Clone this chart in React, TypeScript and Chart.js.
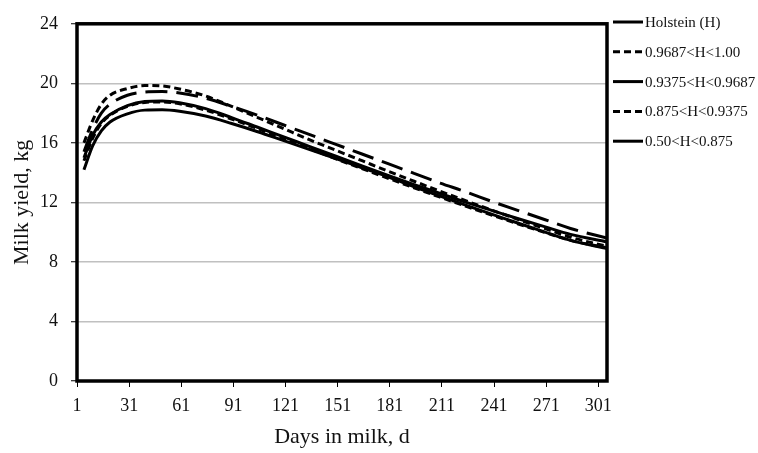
import React, { useEffect, useRef } from "react";
import { Chart, registerables } from "chart.js";

Chart.register(...registerables);

// Days in milk at which values were read
const days = [5, 10, 15, 20, 30, 40, 50, 60, 75, 90, 105, 120, 135, 150, 165, 180, 195, 210, 225, 240, 255, 270, 285, 306];

const seriesNames = ["Holstein (H)", "0.9687<H<1.00", "0.9375<H<0.9687", "0.875<H<0.9375", "0.50<H<0.875"];

const holstein = [15.0, 16.5, 17.4, 17.9, 18.5, 18.78, 18.82, 18.7, 18.3, 17.7, 17.05, 16.4, 15.75, 15.1, 14.45, 13.82, 13.2, 12.6, 12.0, 11.45, 10.9, 10.37, 9.85, 9.35];
const h9687 = [16.0, 17.5, 18.6, 19.2, 19.65, 19.85, 19.82, 19.62, 19.15, 18.45, 17.7, 16.95, 16.2, 15.5, 14.8, 14.1, 13.42, 12.75, 12.1, 11.47, 10.85, 10.25, 9.66, 9.05];
const h9375 = [15.4, 16.9, 18.0, 18.6, 19.2, 19.42, 19.45, 19.35, 19.0, 18.45, 17.85, 17.2, 16.55, 15.9, 15.25, 14.6, 13.95, 13.3, 12.7, 12.05, 11.45, 10.85, 10.25, 9.6];
const h875 = [14.8, 16.3, 17.3, 17.85, 18.45, 18.72, 18.75, 18.62, 18.2, 17.6, 16.95, 16.28, 15.6, 14.93, 14.27, 13.62, 12.98, 12.35, 11.73, 11.13, 10.55, 9.99, 9.45, 8.95];
const h50 = [14.2, 15.8, 16.8, 17.4, 17.95, 18.2, 18.22, 18.12, 17.8, 17.3, 16.75, 16.15, 15.55, 14.95, 14.33, 13.72, 13.05, 12.42, 11.8, 11.2, 10.6, 10.02, 9.45, 8.9];

const xTicks = [1, 31, 61, 91, 121, 151, 181, 211, 241, 271, 301];
const yTicks = [0, 4, 8, 12, 16, 20, 24];

const FONT = "'Liberation Serif', 'Times New Roman', serif";

export default function App() {
  const ref = useRef<HTMLCanvasElement>(null);

  useEffect(() => {
    const canvas = ref.current;
    if (!canvas) return;

    const styles = [
      { dash: [] as number[], legendDash: [] as number[] },
      { dash: [7, 4], legendDash: [7, 4] },
      { dash: [22, 9], legendDash: [] as number[] },
      { dash: [7, 4], legendDash: [7, 4] },
      { dash: [] as number[], legendDash: [] as number[] },
    ];
    const series = [holstein, h9687, h9375, h875, h50];

    const datasets = series.map((vals, i) => ({
      label: seriesNames[i],
      data: days.map((d, j) => ({ x: d, y: vals[j] })),
      borderColor: "#000",
      backgroundColor: "#000",
      borderWidth: 3,
      borderDash: styles[i].dash,
      borderCapStyle: "butt" as const,
      pointRadius: 0,
      fill: false,
      cubicInterpolationMode: "monotone" as const,
    }));

    const framePlugin = {
      id: "frame",
      afterDatasetsDraw(chart: any) {
        const { ctx, chartArea: a } = chart;
        ctx.save();
        ctx.strokeStyle = "#000";
        ctx.lineWidth = 3.5;
        ctx.setLineDash([]);
        ctx.strokeRect(a.left, a.top, a.right - a.left, a.bottom - a.top);
        ctx.restore();
      },
    };

    const legendPlugin = {
      id: "customLegend",
      afterDraw(chart: any) {
        const { ctx } = chart;
        ctx.save();
        chart.data.datasets.forEach((ds: any, i: number) => {
          const y = 22 + i * 29.8;
          ctx.strokeStyle = "#000";
          ctx.lineWidth = 3;
          ctx.setLineDash(styles[i].legendDash);
          ctx.beginPath();
          ctx.moveTo(613, y);
          ctx.lineTo(643, y);
          ctx.stroke();
          ctx.setLineDash([]);
          ctx.fillStyle = "#111";
          ctx.font = `15px ${FONT}`;
          ctx.textAlign = "left";
          ctx.textBaseline = "middle";
          ctx.fillText(ds.label, 645, y + 1);
        });
        ctx.restore();
      },
    };

    const chart = new Chart(canvas, {
      type: "line",
      data: { datasets },
      plugins: [framePlugin, legendPlugin],
      options: {
        animation: false,
        responsive: false,
        maintainAspectRatio: false,
        devicePixelRatio: 1,
        layout: { padding: { left: 0, right: 151, top: 13, bottom: 0 } },
        plugins: {
          legend: { display: false },
          tooltip: { enabled: false },
          title: { display: false },
        },
        scales: {
          x: {
            type: "linear",
            min: 1,
            max: 306,
            afterBuildTicks: (s: any) => {
              s.ticks = xTicks.map((v) => ({ value: v }));
            },
            afterFit: (s: any) => {
              s.height = 72;
            },
            grid: {
              display: true,
              drawOnChartArea: false,
              drawTicks: true,
              tickLength: 6,
              color: "#000",
              lineWidth: 1,
            },
            border: { display: false },
            ticks: {
              font: { family: FONT, size: 18 },
              color: "#111",
              padding: 8,
              maxRotation: 0,
              autoSkip: false,
              callback: (v: any) => String(v),
            },
            title: {
              display: true,
              text: "Days in milk, d",
              font: { family: FONT, size: 22 },
              color: "#111",
              padding: { top: 0, bottom: 3 },
            },
          },
          y: {
            type: "linear",
            min: 0,
            max: 24,
            afterBuildTicks: (s: any) => {
              s.ticks = yTicks.map((v) => ({ value: v }));
            },
            afterFit: (s: any) => {
              s.width = 77;
            },
            grid: {
              color: "#c0c0c0",
              lineWidth: 1.5,
              tickColor: "#000",
              tickLength: 6,
              tickWidth: 1,
            },
            border: { display: false },
            ticks: {
              font: { family: FONT, size: 18 },
              color: "#111",
              padding: 13,
              callback: (v: any) => String(v),
            },
            title: {
              display: true,
              text: "Milk yield, kg",
              font: { family: FONT, size: 22 },
              color: "#111",
              padding: { top: 9, bottom: 0 },
            },
          },
        },
      },
    } as any);

    return () => chart.destroy();
  }, []);

  return (
    <div style={{ position: "absolute", left: 0, top: 0, width: 758, height: 453, background: "#fff" }}>
      <canvas ref={ref} width={758} height={453} style={{ width: 758, height: 453, display: "block" }} />
    </div>
  );
}
